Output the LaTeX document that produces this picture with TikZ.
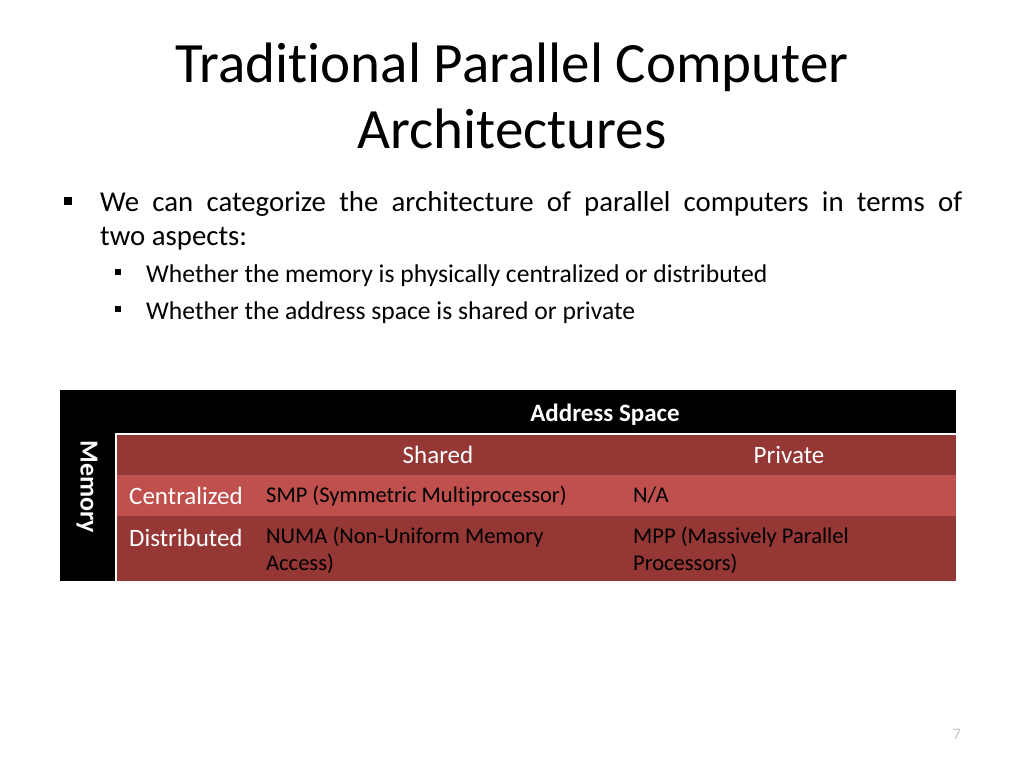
\documentclass[tikz,border=0pt]{standalone}
\usepackage{fontspec}
\setmainfont{Carlito}[Ligatures=CommonOff]
\definecolor{darkred}{RGB}{149,55,53}
\definecolor{lightred}{RGB}{192,80,77}
\definecolor{pgnum}{RGB}{200,200,200}
\begin{document}
\begin{tikzpicture}[x=1pt,y=-1pt,
  title/.style={font=\fontsize{57}{66}\selectfont, align=center, inner sep=0pt},
  body/.style={font=\fontsize{28.8}{34}\selectfont, inner sep=0pt},
  sub/.style={font=\fontsize{25.6}{30}\selectfont, inner sep=0pt},
  bul/.style={fill=black, minimum size=#1, inner sep=0pt},
  hdr/.style={font=\fontsize{25}{30}\selectfont, text=white, inner sep=0pt},
  cell/.style={font=\fontsize{22.5}{27}\selectfont, text=black, inner sep=0pt, align=left, anchor=base west},
  rowlab/.style={font=\fontsize{25}{30}\selectfont, text=white, inner sep=0pt, anchor=base west}
]
\useasboundingbox[fill=white] (0,0) rectangle (1024,768);
% title
\node[title, anchor=base] (t1) at (512,82) {Traditional Parallel Computer};
\node[title, anchor=base] (t2) at (512,148) {Architectures};
% bullets
\node[bul=8pt] (b1) at (68,201) {};
\node[body, anchor=north west, text width=862pt, align=justify] (p1) at (100,191.5) {We can categorize the architecture of parallel computers in terms of\linebreak two aspects:};
\node[bul=6.5pt] (b2) at (118,272) {};
\node[sub, anchor=base west] (s1) at (146,282) {Whether the memory is physically centralized or distributed};
\node[bul=6.5pt] (b3) at (118,309) {};
\node[sub, anchor=base west] (s2) at (146,319) {Whether the address space is shared or private};
% table
\fill[black] (60,390) rectangle (956,581);
\fill[darkred] (116,434) rectangle (956,475);
\fill[lightred] (116,475) rectangle (956,516);
\fill[darkred] (116,516) rectangle (956,581);
\draw[white, line width=2.5pt] (116,581) -- (116,434) -- (956,434);
\node[hdr, font=\fontsize{25}{30}\selectfont\bfseries, anchor=base] (as) at (605,421) {Address Space};
\node[hdr, font=\fontsize{26}{30}\selectfont\bfseries, rotate=-90] (mem) at (87,487) {Memory};
\node[hdr, anchor=base] (sh) at (438,463) {Shared};
\node[hdr, anchor=base] (pr) at (789,463) {Private};
\node[rowlab] (ce) at (129,504) {Centralized};
\node[rowlab] (di) at (129,546) {Distributed};
\node[cell] (smp) at (266,502) {SMP (Symmetric Multiprocessor)};
\node[cell] (na) at (633,502) {N/A};
\node[cell] (numa) at (266,570) {NUMA (Non-Uniform Memory\\Access)};
\node[cell] (mpp) at (633,570) {MPP (Massively Parallel\\Processors)};
% page number
\node[font=\fontsize{16}{18}\selectfont, text=pgnum, anchor=base, inner sep=0pt] (pg) at (957,739) {7};
\end{tikzpicture}
\end{document}
